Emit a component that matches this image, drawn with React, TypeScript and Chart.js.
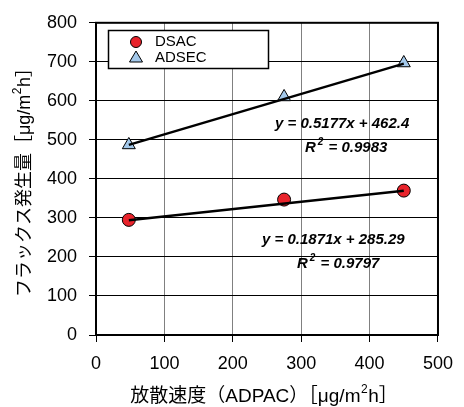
import React, { useEffect, useRef } from "react";
import { Chart, registerables } from "chart.js";
Chart.register(...registerables);

const dsacX = [48, 275, 450];
const dsacY = [295, 347, 370];
const adsecX = [48, 275, 450];
const adsecY = [487, 610, 697];
const dsacTrendX = [48, 450];
const dsacTrendY = [294.3, 369.5];
const adsecTrendX = [48, 450];
const adsecTrendY = [487.2, 695.4];
const xTicks = [0, 100, 200, 300, 400, 500];
const yTicks = [0, 100, 200, 300, 400, 500, 600, 700, 800];
const legendLabels = ["DSAC", "ADSEC"];
const adsecEq = "y = 0.5177x + 462.4";
const adsecR2 = " = 0.9983";
const dsacEq = "y = 0.1871x + 285.29";
const dsacR2 = " = 0.9797";
const xTitleParts = ["放散速度（ADPAC）［μg/m", "2", "h］"];
const yTitleParts = ["フラックス発生量［μg/m", "2", "h］"];

const FONT = "'Liberation Sans', Arial, 'Noto Sans CJK JP', sans-serif";
const RED = "#e8232b";
const BLUE = "#a3c8ea";

function pts(xs: number[], ys: number[]) {
  return xs.map((x, i) => ({ x, y: ys[i] }));
}

function drawSupText(ctx: any, parts: string[], cx: number, cy: number, size: number) {
  const main = `${size}px ${FONT}`;
  const sup = `${Math.round(size * 0.65)}px ${FONT}`;
  ctx.font = main;
  const w0 = ctx.measureText(parts[0]).width;
  const w2 = ctx.measureText(parts[2]).width;
  ctx.font = sup;
  const w1 = ctx.measureText(parts[1]).width + 1;
  const total = w0 + w1 + w2;
  let x = cx - total / 2;
  ctx.textAlign = "left";
  ctx.textBaseline = "middle";
  ctx.font = main;
  ctx.fillText(parts[0], x, cy);
  x += w0;
  ctx.font = sup;
  ctx.fillText(parts[1], x + 0.5, cy - size * 0.38);
  x += w1;
  ctx.font = main;
  ctx.fillText(parts[2], x, cy);
}

const overlay = {
  id: "overlay",
  afterDatasetsDraw(chart: any) {
    const { ctx, chartArea } = chart;
    ctx.save();
    ctx.strokeStyle = "#000";
    ctx.lineWidth = 2;
    ctx.strokeRect(chartArea.left, chartArea.top, chartArea.right - chartArea.left, chartArea.bottom - chartArea.top);

    // legend
    ctx.fillStyle = "#fff";
    ctx.fillRect(108, 30, 160, 38);
    ctx.lineWidth = 1.5;
    ctx.strokeRect(108.5, 30.5, 160, 38);
    ctx.beginPath();
    ctx.arc(136, 42, 5.5, 0, Math.PI * 2);
    ctx.fillStyle = RED;
    ctx.fill();
    ctx.lineWidth = 1;
    ctx.strokeStyle = "#000";
    ctx.stroke();
    ctx.beginPath();
    ctx.moveTo(136, 51);
    ctx.lineTo(142.5, 62);
    ctx.lineTo(129.5, 62);
    ctx.closePath();
    ctx.fillStyle = BLUE;
    ctx.fill();
    ctx.stroke();
    ctx.fillStyle = "#000";
    ctx.font = `15px ${FONT}`;
    ctx.textBaseline = "middle";
    ctx.textAlign = "left";
    ctx.fillText(legendLabels[0], 155, 42);
    ctx.fillText(legendLabels[1], 155, 58);

    // annotations
    const drawR2 = (x: number, y: number, rest: string) => {
      ctx.font = `bold italic 15px ${FONT}`;
      ctx.fillText("R", x, y);
      const w = ctx.measureText("R").width;
      ctx.font = `bold italic 10px ${FONT}`;
      ctx.fillText("2", x + w + 2, y - 6);
      const w2 = ctx.measureText("2").width;
      ctx.font = `bold italic 15px ${FONT}`;
      ctx.fillText(rest, x + w + 2 + w2 + 1, y);
    };
    ctx.font = `bold italic 15px ${FONT}`;
    ctx.fillText(adsecEq, 275, 124);
    drawR2(305, 148, adsecR2);
    ctx.font = `bold italic 15px ${FONT}`;
    ctx.fillText(dsacEq, 262, 240);
    drawR2(297, 264, dsacR2);

    // axis titles
    const midX = (chartArea.left + chartArea.right) / 2;
    drawSupText(ctx, xTitleParts, midX - 3, 397, 19);
    ctx.save();
    ctx.translate(25, 178);
    ctx.rotate(-Math.PI / 2);
    drawSupText(ctx, yTitleParts, 0, 0, 18);
    ctx.restore();
    ctx.restore();
  },
};

export default function App() {
  const ref = useRef<HTMLCanvasElement | null>(null);
  useEffect(() => {
    document.body.style.margin = "0";
    const chart = new Chart(ref.current!, {
      type: "scatter",
      data: {
        datasets: [
          {
            type: "line",
            label: "DSAC trend",
            data: pts(dsacTrendX, dsacTrendY),
            borderColor: "#000",
            borderWidth: 2.5,
            pointRadius: 0,
            showLine: true,
          } as any,
          {
            type: "line",
            label: "ADSEC trend",
            data: pts(adsecTrendX, adsecTrendY),
            borderColor: "#000",
            borderWidth: 2.5,
            pointRadius: 0,
            showLine: true,
          } as any,
          {
            label: legendLabels[0],
            data: pts(dsacX, dsacY),
            pointStyle: "circle",
            pointRadius: 6.5,
            backgroundColor: RED,
            borderColor: "#000",
            borderWidth: 1,
          },
          {
            label: legendLabels[1],
            data: pts(adsecX, adsecY),
            pointStyle: "triangle",
            pointRadius: 7.5,
            backgroundColor: BLUE,
            borderColor: "#000",
            borderWidth: 1,
          },
        ],
      },
      options: {
        responsive: false,
        animation: false,
        layout: { padding: { top: 18, right: 24, left: 0, bottom: 0 } },
        plugins: { legend: { display: false }, tooltip: { enabled: false } },
        scales: {
          x: {
            type: "linear",
            min: 0,
            max: 500,
            afterBuildTicks: (s: any) => {
              s.ticks = xTicks.map((v) => ({ value: v }));
            },
            afterFit: (s: any) => {
              s.height = 72;
            },
            ticks: {
              color: "#000",
              font: { family: FONT, size: 18 },
              padding: 11,
              maxRotation: 0,
            },
            grid: { color: "#808080", lineWidth: 1, tickLength: 7, tickColor: "#000", tickWidth: 1 },
            border: { display: false },
          },
          y: {
            type: "linear",
            min: 0,
            max: 800,
            afterBuildTicks: (s: any) => {
              s.ticks = yTicks.map((v) => ({ value: v }));
            },
            afterFit: (s: any) => {
              s.width = 96;
            },
            ticks: {
              color: "#000",
              font: { family: FONT, size: 18 },
              padding: 12,
            },
            grid: { color: "#000", lineWidth: 1, tickLength: 7, tickColor: "#000", tickWidth: 1 },
            border: { display: false },
          },
        },
      },
      plugins: [overlay],
    });
    return () => chart.destroy();
  }, []);
  return (
    <div style={{ width: 464, height: 407 }}>
      <canvas ref={ref} width={464} height={407} />
    </div>
  );
}
